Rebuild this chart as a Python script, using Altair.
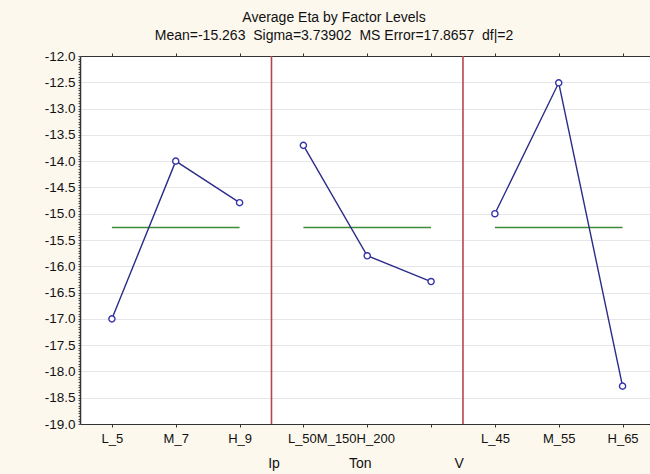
import altair as alt
import pandas as pd
import numpy as np

# ---- data ----
factors = ["Ip", "Ton", "V"]
ip_levels = ["L_5", "M_7", "H_9"]
ip_eta = [-17.00, -14.00, -14.79]
ton_levels = ["L_50", "M_150", "H_200"]
ton_eta = [-13.70, -15.80, -16.29]
v_levels = ["L_45", "M_55", "H_65"]
v_eta = [-15.00, -12.51, -18.28]
grand_mean = -15.263
sigma = 3.73902
ms_error = 17.8657
df_err = 2

NB2 = "\u00a0\u00a0"
title_text = "Average Eta by Factor Levels"
subtitle_text = f"Mean={grand_mean}{NB2}Sigma={sigma}{NB2}MS Error={ms_error}{NB2}df|={df_err}"

# ---- build tables ----
rows = []
slot = 0
for f, levs, vals in zip(factors, [ip_levels, ton_levels, v_levels], [ip_eta, ton_eta, v_eta]):
    for lev, v in zip(levs, vals):
        rows.append(dict(factor=f, level=lev, pos=slot + 0.5, eta=v))
        slot += 1
df = pd.DataFrame(rows)

mean_df = df.groupby("factor", sort=False).agg(x=("pos", "min"), x2=("pos", "max")).reset_index()
mean_df["y"] = grand_mean

sep_df = pd.DataFrame({"sep": [3.0, 6.0]})

# factor captions, placed as in the reference (Statistica layout)
caption_pos = [3.04, 4.39, 5.94]
cap_df = pd.DataFrame({"factor": factors, "pos": caption_pos})

# x tick labels: Ton labels are packed together in the reference
tick_vals = list(df["pos"])
tick_labels = []
for f, levs in zip(factors, [ip_levels, ton_levels, v_levels]):
    if f == "Ton":
        tick_labels += ["".join(levs), "", ""]
    else:
        tick_labels += levs
label_expr = "[" + ",".join(f"'{t}'" for t in tick_labels) + "][floor(datum.value)]"

FONT = "Liberation Sans"
TXT = "#111111"

xscale = alt.Scale(domain=[0, 8.93], nice=False, zero=False)
yscale = alt.Scale(domain=[-19, -12], nice=False, zero=False)

y_ticks = [round(v, 2) for v in np.arange(-19.0, -11.999, 0.05)]
is_major = "abs(datum.value*2-round(datum.value*2))<0.001"

x_axis_bottom = alt.Axis(
    orient="bottom", values=tick_vals, labelExpr=label_expr, title=None,
    grid=False, domain=True, domainColor="#333333", domainWidth=1,
    ticks=True, tickSize=3, tickColor="#333333",
    labelFont=FONT, labelFontSize=13, labelFontWeight="normal", labelColor=TXT, labelPadding=5,
    labelAlign={"condition": {"test": "datum.value == 3.5", "value": "left"}, "value": "center"},
    labelOffset={"condition": {"test": "datum.value == 3.5", "value": -16}, "value": 0},
    labelOverlap=False, labelBound=False, labelFlush=False,
)
x_axis_top = alt.Axis(
    orient="top", values=tick_vals, labels=False, title=None, grid=False,
    domain=True, domainColor="#333333", domainWidth=1,
    ticks=True, tickSize=3, tickColor="#333333",
)
y_axis = alt.Axis(
    values=y_ticks, title=None,
    labelExpr=f"{is_major} ? replace(format(datum.value, '.1f'), '\u2212', '-') : ''",
    grid=True,
    gridColor={"condition": {"test": is_major, "value": "#e6e6ea"}, "value": "transparent"},
    gridWidth=1,
    domain=True, domainColor="#333333", domainWidth=1.5,
    ticks=True, tickSize=2, tickColor="#555555",
    labelFont=FONT, labelFontSize=13.5, labelFontWeight="normal", labelColor=TXT, labelPadding=3,
    labelOverlap=False, labelBound=False, labelFlush=False,
)

base = alt.Chart(df)

# top frame / ticks layer
top_layer = alt.Chart(sep_df).mark_rule(opacity=0).encode(
    x=alt.X("sep:Q", scale=xscale, axis=x_axis_top),
)

seps = alt.Chart(sep_df).mark_rule(color="#b5474c", strokeWidth=1.6).encode(
    x=alt.X("sep:Q", scale=xscale, axis=x_axis_bottom),
    y=alt.value(0),
    y2=alt.value(368),
)

means = alt.Chart(mean_df).mark_rule(color="#3d8b3d", strokeWidth=1.4).encode(
    x=alt.X("x:Q", scale=xscale, axis=None),
    x2="x2:Q",
    y=alt.Y("y:Q", scale=yscale, axis=y_axis),
)

lines = base.mark_line(color="#2c2c88", strokeWidth=1.4).encode(
    x=alt.X("pos:Q", scale=xscale, axis=None),
    y=alt.Y("eta:Q", scale=yscale, axis=y_axis),
    detail="factor:N",
)

points = base.mark_point(shape="circle", filled=True, fill="white", stroke="#3535a8",
                         strokeWidth=1.4, size=38, opacity=1).encode(
    x=alt.X("pos:Q", scale=xscale, axis=None),
    y=alt.Y("eta:Q", scale=yscale, axis=y_axis),
)

captions = alt.Chart(cap_df).mark_text(font=FONT, fontSize=14, color=TXT, align="center",
                                       baseline="alphabetic").encode(
    x=alt.X("pos:Q", scale=xscale, axis=None),
    y=alt.value(412),
    text="factor:N",
)

chart = alt.layer(seps, means, lines, points, captions, top_layer).resolve_axis(
    x="independent"
).properties(
    width=570,
    height=368,
    background="#fcf8ee",
    padding={"left": 80, "top": 56, "right": 0, "bottom": 50},
    autosize=alt.AutoSizeParams(type="none"),
    title=alt.TitleParams(
        text=title_text, subtitle=subtitle_text,
        font=FONT, subtitleFont=FONT, fontSize=14, subtitleFontSize=14,
        fontWeight="normal", color=TXT, subtitleColor=TXT,
        anchor="middle", dx=-31, offset=6, subtitlePadding=4,
    ),
).configure_view(fill="white", stroke=None)

chart.save("out.html", embed_options={"renderer": "svg", "actions": False})
